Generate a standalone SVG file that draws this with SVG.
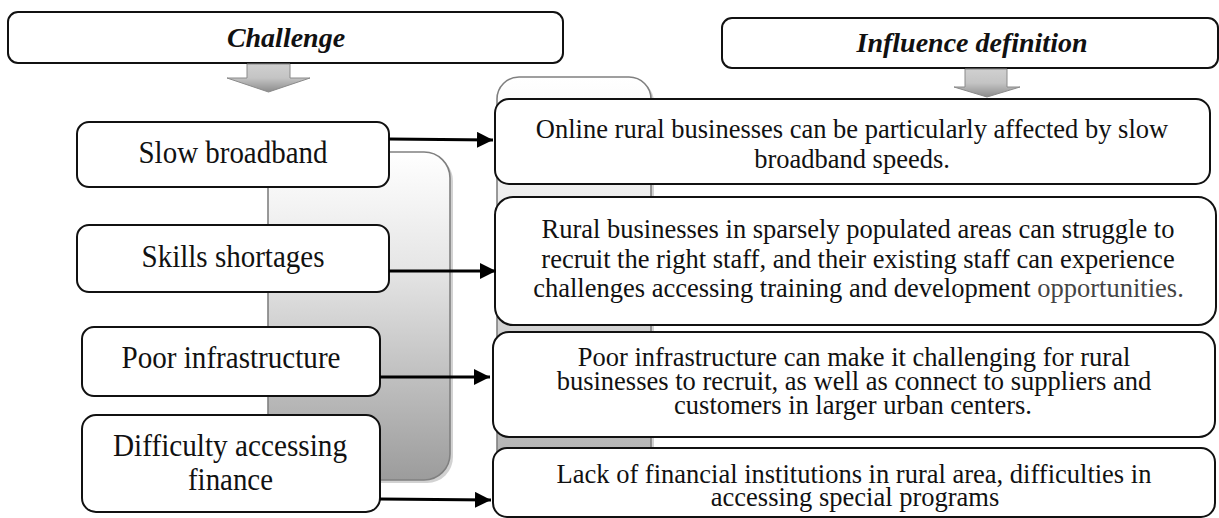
<svg xmlns="http://www.w3.org/2000/svg" width="1219" height="518" viewBox="0 0 1219 518">
<defs>
<linearGradient id="gL" x1="0" y1="0" x2="0" y2="1"><stop offset="0" stop-color="#ffffff"/><stop offset="0.35" stop-color="#e6e6e6"/><stop offset="1" stop-color="#9c9c9c"/></linearGradient>
<linearGradient id="gR" x1="0" y1="0" x2="0" y2="1"><stop offset="0" stop-color="#ffffff"/><stop offset="0.35" stop-color="#e8e8e8"/><stop offset="1" stop-color="#a6a6a6"/></linearGradient>
<linearGradient id="gA" x1="0" y1="0" x2="0" y2="1"><stop offset="0" stop-color="#d0d0d0"/><stop offset="0.5" stop-color="#c4c4c4"/><stop offset="1" stop-color="#8c8c8c"/></linearGradient>
<marker id="ah" markerUnits="userSpaceOnUse" markerWidth="18" markerHeight="18" refX="16" refY="8" orient="auto"><path d="M0,0 L16,8 L0,16 Z" fill="#000"/></marker>
</defs>
<style>
.box{fill:#fff;stroke:#111;stroke-width:2}
.back{stroke:#808080;stroke-width:1.6}
.shadow{fill:#d2d2d2;stroke:none}
.darr{fill:url(#gA);stroke:#8a8a8a;stroke-width:1}
text{font-family:'Liberation Serif','Times New Roman',serif;fill:#111;text-anchor:middle}
.hd{font-size:28px;font-weight:bold;font-style:italic}
.lt{font-size:31px}
.rt{font-size:26.5px}
.con{stroke:#000;stroke-width:3;fill:none;marker-end:url(#ah)}
</style>

<g id="backgrounds">
<rect class="shadow" x="271" y="155" width="182" height="328" rx="26"/>
<rect class="back" x="268" y="152" width="182" height="328" rx="26" fill="url(#gL)"/>
<rect class="shadow" x="500" y="80" width="154" height="440" rx="22"/>
<rect class="back" x="497" y="77" width="154" height="440" rx="22" fill="url(#gR)"/>
</g>

<g id="header-challenge">
<rect class="box" x="8" y="12" width="555" height="51" rx="10"/>
<text class="hd" x="286" y="47">Challenge</text>
</g>
<g id="header-influence">
<rect class="box" x="722" y="18" width="496" height="50" rx="10"/>
<text class="hd" x="972" y="52">Influence definition</text>
</g>

<g id="down-arrows">
<path class="darr" d="M247,64 L290,64 L290,78 L310,78 L268.5,92 L227,78 L247,78 Z"/>
<path class="darr" d="M965,69 L1007,69 L1007,87 L1020,87 L987,97 L954,87 L965,87 Z"/>
</g>

<g id="c-slow">
<rect class="box" x="77" y="122" width="312" height="65" rx="12"/>
<text class="lt" x="233" y="163" textLength="189" lengthAdjust="spacingAndGlyphs">Slow broadband</text>
</g>
<g id="c-skills">
<rect class="box" x="77" y="225" width="312" height="67" rx="12"/>
<text class="lt" x="233" y="267" textLength="183" lengthAdjust="spacingAndGlyphs">Skills shortages</text>
</g>
<g id="c-infra">
<rect class="box" x="82" y="327" width="298" height="69" rx="12"/>
<text class="lt" x="231" y="368" textLength="219" lengthAdjust="spacingAndGlyphs">Poor infrastructure</text>
</g>
<g id="c-finance">
<rect class="box" x="82" y="415" width="298" height="97" rx="14"/>
<text class="lt" x="230" y="456" textLength="234" lengthAdjust="spacingAndGlyphs">Difficulty accessing</text>
<text class="lt" x="230.5" y="490" textLength="85" lengthAdjust="spacingAndGlyphs">finance</text>
</g>

<g id="i-slow">
<rect class="box" x="495" y="99" width="715" height="85" rx="14"/>
<text class="rt" x="852" y="138">Online rural businesses can be particularly affected by slow</text>
<text class="rt" x="852" y="168">broadband speeds.</text>
</g>
<g id="i-skills">
<rect class="box" x="495" y="197" width="721" height="128" rx="18"/>
<text class="rt" x="858" y="238">Rural businesses in sparsely populated areas can struggle to</text>
<text class="rt" x="858" y="268">recruit the right staff, and their existing staff can experience</text>
<text class="rt" x="858.5" y="297">challenges accessing training and development <tspan fill="#444">opportunities.</tspan></text>
</g>
<g id="i-infra">
<rect class="box" x="493" y="332" width="722" height="105" rx="16"/>
<text class="rt" x="854" y="366">Poor infrastructure can make it challenging for rural</text>
<text class="rt" x="854" y="390">businesses to recruit, as well as connect to suppliers and</text>
<text class="rt" x="853" y="414">customers in larger urban centers.</text>
</g>
<g id="i-finance">
<rect class="box" x="493" y="448" width="722" height="69" rx="14"/>
<text class="rt" x="854" y="483">Lack of financial institutions in rural area, difficulties in</text>
<text class="rt" x="855" y="506">accessing special programs</text>
</g>

<g id="connectors">
<line class="con" x1="389" y1="139" x2="493" y2="140"/>
<line class="con" x1="389" y1="271" x2="496" y2="271"/>
<line class="con" x1="380" y1="377" x2="490" y2="377"/>
<line class="con" x1="380" y1="499" x2="491" y2="500"/>
</g>
</svg>
